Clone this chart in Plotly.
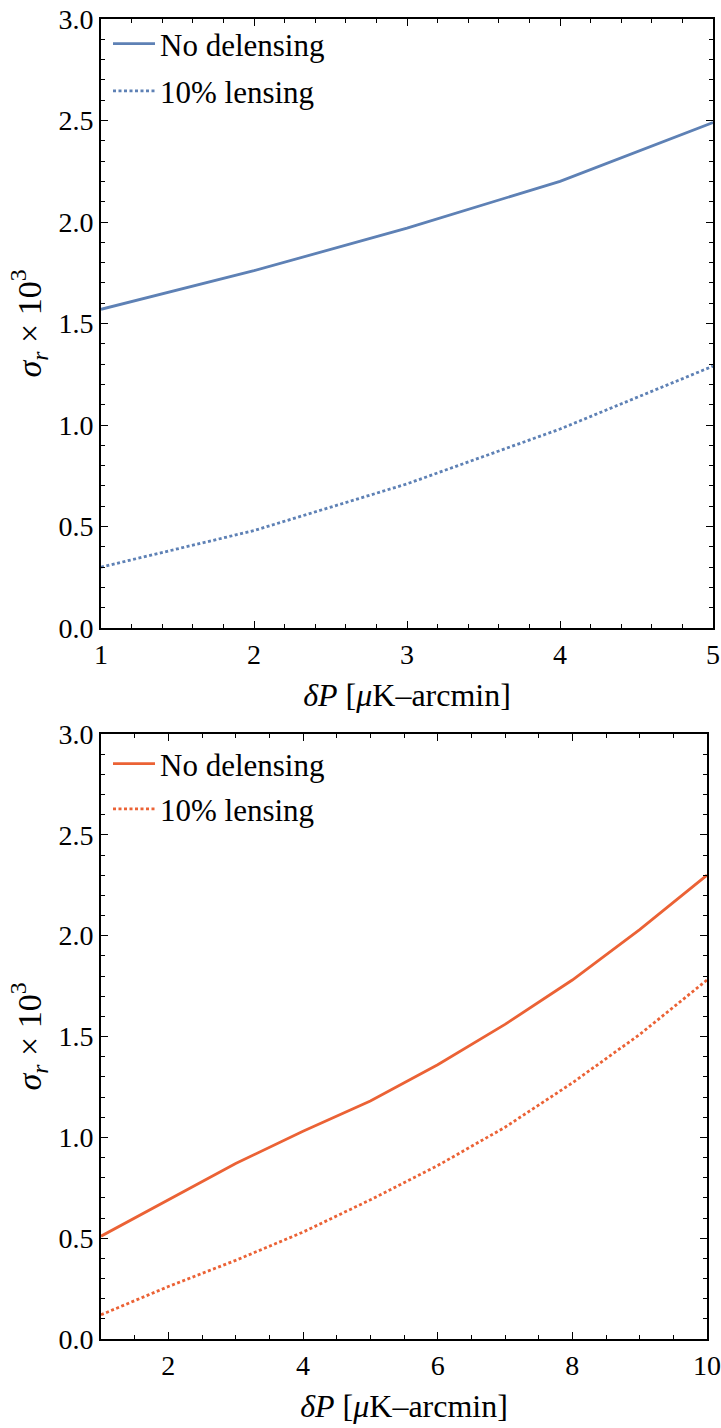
import plotly.graph_objects as go

# ---- data ----
x_top = [1, 2, 3, 4, 5]
top_no_delensing = [1.57, 1.76, 1.97, 2.20, 2.49]
top_10pct_lensing = [0.30, 0.48, 0.71, 0.98, 1.29]

x_bottom = [1, 2, 3, 4, 5, 6, 7, 8, 9, 10]
bottom_no_delensing = [0.51, 0.69, 0.87, 1.03, 1.18, 1.36, 1.56, 1.78, 2.03, 2.30]
bottom_10pct_lensing = [0.12, 0.26, 0.39, 0.53, 0.69, 0.86, 1.05, 1.27, 1.51, 1.78]

series_names = ["No delensing", "10% lensing"]
BLUE = "#5E81B5"
ORANGE = "#EB6235"
FONT = "Liberation Serif, DejaVu Serif, serif"
LW = 2.8
DOT = "3px,2.5px"

fig = go.Figure()

fig.add_trace(go.Scatter(x=x_top, y=top_no_delensing, mode="lines", name=series_names[0],
                         line=dict(color=BLUE, width=LW), xaxis="x", yaxis="y",
                         legend="legend", legendgroup="a"))
fig.add_trace(go.Scatter(x=x_top, y=top_10pct_lensing, mode="lines", name=series_names[1],
                         line=dict(color=BLUE, width=LW, dash=DOT), xaxis="x", yaxis="y",
                         legend="legend", legendgroup="b"))
fig.add_trace(go.Scatter(x=x_bottom, y=bottom_no_delensing, mode="lines", name=series_names[0],
                         line=dict(color=ORANGE, width=LW), xaxis="x2", yaxis="y2",
                         legend="legend2", legendgroup="c"))
fig.add_trace(go.Scatter(x=x_bottom, y=bottom_10pct_lensing, mode="lines", name=series_names[1],
                         line=dict(color=ORANGE, width=LW, dash=DOT), xaxis="x2", yaxis="y2",
                         legend="legend2", legendgroup="d"))

W, H = 721, 1428
def px_x(p): return p / W
def px_y(p): return 1 - p / H

TICKFONT = dict(family=FONT, size=28, color="black")
TITLEFONT = dict(family=FONT, size=32, color="black")
YTITLEFONT = dict(family=FONT, size=34, color="black")
LEGFONT = dict(family=FONT, size=31, color="black")

axis_common = dict(showline=True, linecolor="black", linewidth=1.8, mirror="allticks",
                   ticks="inside", ticklen=7, tickwidth=1.4, tickcolor="black",
                   showgrid=False, zeroline=False, tickfont=TICKFONT, automargin=False)
minor_common = dict(ticks="inside", ticklen=4, tickwidth=1.1, tickcolor="black")

xtitle = "<i>δP</i> [<i>μ</i>K–arcmin]"
ytitle = "<i>σ</i><sub><i>r</i></sub> × 10<sup>3</sup>"

fig.update_layout(
    template="none",
    width=W, height=H,
    margin=dict(l=0, r=0, t=0, b=0, pad=0),
    paper_bgcolor="white", plot_bgcolor="white",
    font=dict(family=FONT, color="black"),
    xaxis=dict(domain=[px_x(101), px_x(713)], range=[1, 5], tick0=1, dtick=1,
               minor=dict(dtick=0.2, **minor_common),
               title=dict(text=xtitle, font=TITLEFONT, standoff=15),
               anchor="y", **axis_common),
    yaxis=dict(domain=[px_y(628), px_y(19)], range=[0, 3], tick0=0, dtick=0.5, tickformat=".1f",
               minor=dict(dtick=0.1, **minor_common),
               title=dict(text=ytitle, font=YTITLEFONT, standoff=7),
               anchor="x", **axis_common),
    xaxis2=dict(domain=[px_x(101), px_x(707)], range=[1, 10], tick0=0, dtick=2,
                minor=dict(dtick=0.5, **minor_common),
                title=dict(text=xtitle, font=TITLEFONT, standoff=15),
                anchor="y2", **axis_common),
    yaxis2=dict(domain=[px_y(1339), px_y(734)], range=[0, 3], tick0=0, dtick=0.5, tickformat=".1f",
                minor=dict(dtick=0.1, **minor_common),
                title=dict(text=ytitle, font=YTITLEFONT, standoff=7),
                anchor="x2", **axis_common),
    legend=dict(x=px_x(108), y=px_y(17), xanchor="left", yanchor="top",
                bgcolor="rgba(0,0,0,0)", font=LEGFONT,
                tracegroupgap=4, itemwidth=42),
    legend2=dict(x=px_x(108), y=px_y(737), xanchor="left", yanchor="top",
                 bgcolor="rgba(0,0,0,0)", font=LEGFONT,
                 tracegroupgap=2, itemwidth=42),
)

fig.write_html("out.html")
